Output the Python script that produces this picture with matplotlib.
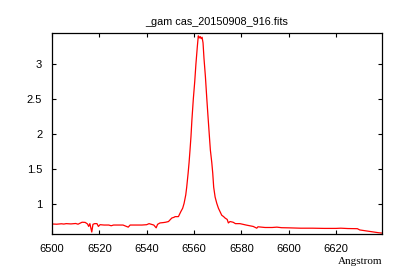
import matplotlib
matplotlib.use("Agg")
import matplotlib.pyplot as plt

# espectro (Angstrom, flujo normalizado)
wave = [6500.0, 6502.0, 6504.0, 6505.0, 6506.0, 6508.0, 6510.0, 6511.0, 6512.7, 6514.0,
        6515.0, 6515.5, 6516.0, 6516.8, 6517.3, 6518.0, 6519.0, 6519.6, 6520.3, 6522.0,
        6524.0, 6525.0, 6526.0, 6528.0, 6530.0, 6532.2, 6533.0, 6536.0, 6538.0, 6540.0,
        6541.0, 6542.0, 6543.0, 6544.0, 6544.6, 6545.6, 6547.0, 6548.0, 6549.2, 6550.6,
        6551.5, 6552.0, 6553.4, 6554.4, 6555.2, 6555.8, 6556.5, 6556.9, 6557.5, 6557.9,
        6558.3, 6558.7, 6559.1, 6559.7, 6560.3, 6560.8, 6561.4, 6561.8, 6562.2, 6562.6,
        6563.0, 6563.4, 6563.8, 6564.2, 6564.8, 6565.4, 6565.9, 6566.5, 6566.9, 6567.5,
        6567.9, 6568.3, 6568.9, 6569.6, 6570.3, 6571.7, 6572.5, 6573.1, 6574.0, 6574.5,
        6575.2, 6576.5, 6577.5, 6579.4, 6582.0, 6585.0, 6586.5, 6587.0, 6590.0, 6593.0,
        6595.0, 6597.0, 6600.0, 6605.0, 6610.0, 6615.0, 6620.0, 6622.0, 6625.0, 6629.0,
        6630.0, 6633.0, 6636.0, 6638.0, 6639.5]
flux = [0.715, 0.712, 0.718, 0.714, 0.720, 0.716, 0.722, 0.712, 0.740, 0.738,
        0.715, 0.680, 0.720, 0.600, 0.710, 0.720, 0.720, 0.680, 0.705, 0.700,
        0.700, 0.690, 0.700, 0.700, 0.700, 0.670, 0.700, 0.700, 0.700, 0.705,
        0.720, 0.710, 0.700, 0.660, 0.710, 0.730, 0.735, 0.740, 0.750, 0.800,
        0.810, 0.820, 0.820, 0.890, 0.940, 1.010, 1.130, 1.240, 1.440, 1.590,
        1.770, 1.960, 2.200, 2.500, 2.750, 3.000, 3.250, 3.400, 3.370, 3.390,
        3.360, 3.380, 3.300, 3.080, 2.820, 2.500, 2.250, 1.960, 1.770, 1.590,
        1.440, 1.240, 1.100, 1.010, 0.940, 0.840, 0.820, 0.800, 0.780, 0.730,
        0.750, 0.740, 0.720, 0.720, 0.700, 0.680, 0.655, 0.675, 0.665, 0.665,
        0.670, 0.662, 0.660, 0.655, 0.655, 0.652, 0.652, 0.655, 0.650, 0.648,
        0.630, 0.615, 0.600, 0.590, 0.585]
xticks = [6500, 6520, 6540, 6560, 6580, 6600, 6620]
yticks = [1, 1.5, 2, 2.5, 3]
ytick_labels = ["1", "1.5", "2", "2.5", "3"]

plt.rcParams["font.family"] = ["Liberation Sans", "DejaVu Sans"]

fig = plt.figure(figsize=(4.0, 2.8), dpi=100)
ax = fig.add_axes([0.13, 0.164, 0.825, 0.718])
ax.plot(wave, flux, color="#ff0000", linewidth=0.9)

ax.set_xlim(6500, 6639.4)
ax.set_ylim(0.571, 3.44)
ax.set_xticks(xticks)
ax.set_xticklabels([str(t) for t in xticks])
ax.set_yticks(yticks)
ax.set_yticklabels(ytick_labels)
ax.tick_params(direction="in", length=3, width=0.8, top=True, right=True,
               labelsize=8, pad=7)
for s in ax.spines.values():
    s.set_linewidth(0.9)

ax.set_title("_gam cas_20150908_916.fits", fontsize=7.8, pad=6)
fig.text(0.955, 0.065, "Angstrom", ha="right", va="center",
         fontsize=8, family="Liberation Serif")

fig.savefig("out.png", dpi=100, facecolor="white")
